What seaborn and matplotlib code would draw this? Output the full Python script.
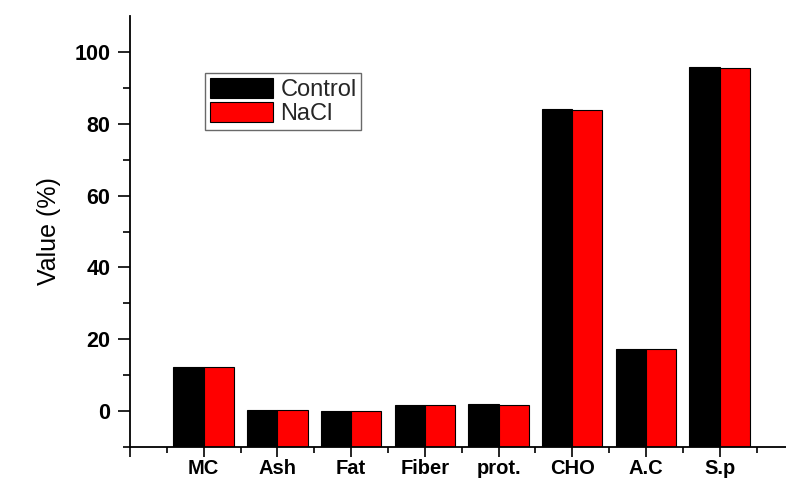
import matplotlib
matplotlib.use("Agg")
import matplotlib.pyplot as plt
import seaborn as sns
import pandas as pd
from matplotlib.ticker import FixedLocator

categories = ["MC", "Ash", "Fat", "Fiber", "prot.", "CHO", "A.C", "S.p"]
control = [12.3, 0.3, 0.1, 1.6, 1.9, 84.1, 17.2, 95.8]
nacl = [12.4, 0.3, 0.1, 1.6, 1.6, 83.8, 17.4, 95.5]
groups = ["Control", "NaCl"]
colors = ["#000000", "#ff0000"]

df = pd.DataFrame({
    "Component": categories * 2,
    "Value": control + nacl,
    "Group": [groups[0]] * len(categories) + [groups[1]] * len(categories),
})

sns.set_theme(style="ticks")
plt.rcParams["font.family"] = ["Liberation Sans", "DejaVu Sans"]

fig = plt.figure(figsize=(7.86, 4.78), dpi=100)
ax = fig.add_axes([130 / 786, 31 / 478, 1 - 130 / 786, 431 / 478])

sns.barplot(data=df, x="Component", y="Value", hue="Group", order=categories,
            hue_order=groups, palette=colors, width=0.82, edgecolor="black",
            linewidth=0.8, saturation=1, ax=ax)

ymin, ymax = -10, 110
# Bars rise from the bottom of the axis, as in the Origin-style frame
for p in ax.patches:
    h = p.get_height()
    if p.get_width() > 0 and p.get_y() == 0:
        p.set_y(ymin)
        p.set_height(h - ymin)

ax.set_ylim(ymin, ymax)
ax.set_xlim(-1, 7.9)
ax.yaxis.set_major_locator(FixedLocator([0, 20, 40, 60, 80, 100]))
ax.yaxis.set_minor_locator(FixedLocator([-10, 10, 30, 50, 70, 90]))
ax.set_xticks(range(-1, 8))
ax.set_xticklabels([""] + categories)
ax.xaxis.set_minor_locator(FixedLocator([i + 0.5 for i in range(-1, 8)]))

for lab in ax.get_yticklabels():
    lab.set_fontweight("bold")
    lab.set_fontsize(15.5)
    lab.set_color("black")
for lab in ax.get_xticklabels():
    lab.set_fontweight("bold")
    lab.set_fontsize(14.5)
    lab.set_color("black")

ax.tick_params(axis="y", which="major", length=9, width=1.2, direction="out", pad=5, colors="black")
ax.tick_params(axis="y", which="minor", length=5, width=1.2, direction="out", colors="black")
ax.tick_params(axis="x", which="major", length=7, width=1.2, direction="out", pad=1.5, colors="black")
ax.tick_params(axis="x", which="minor", length=4, width=1.2, direction="out", colors="black")

for side in ["top", "right"]:
    ax.spines[side].set_visible(False)
for side in ["left", "bottom"]:
    ax.spines[side].set_linewidth(1.3)
    ax.spines[side].set_color("black")

ax.set_xlabel("")
ax.set_ylabel("Value (%)", fontsize=18, color="black", labelpad=10)

leg = ax.legend(loc="upper left", bbox_to_anchor=(0.114, 0.868), borderaxespad=0,
                frameon=True, fancybox=False, fontsize=17, handlelength=2.7,
                handleheight=0.95, handletextpad=0.3, borderpad=0.2,
                labelspacing=0.05, title=None)
leg.get_frame().set_edgecolor("#444444")
leg.get_frame().set_linewidth(1.0)

fig.savefig("out.png", dpi=100)
